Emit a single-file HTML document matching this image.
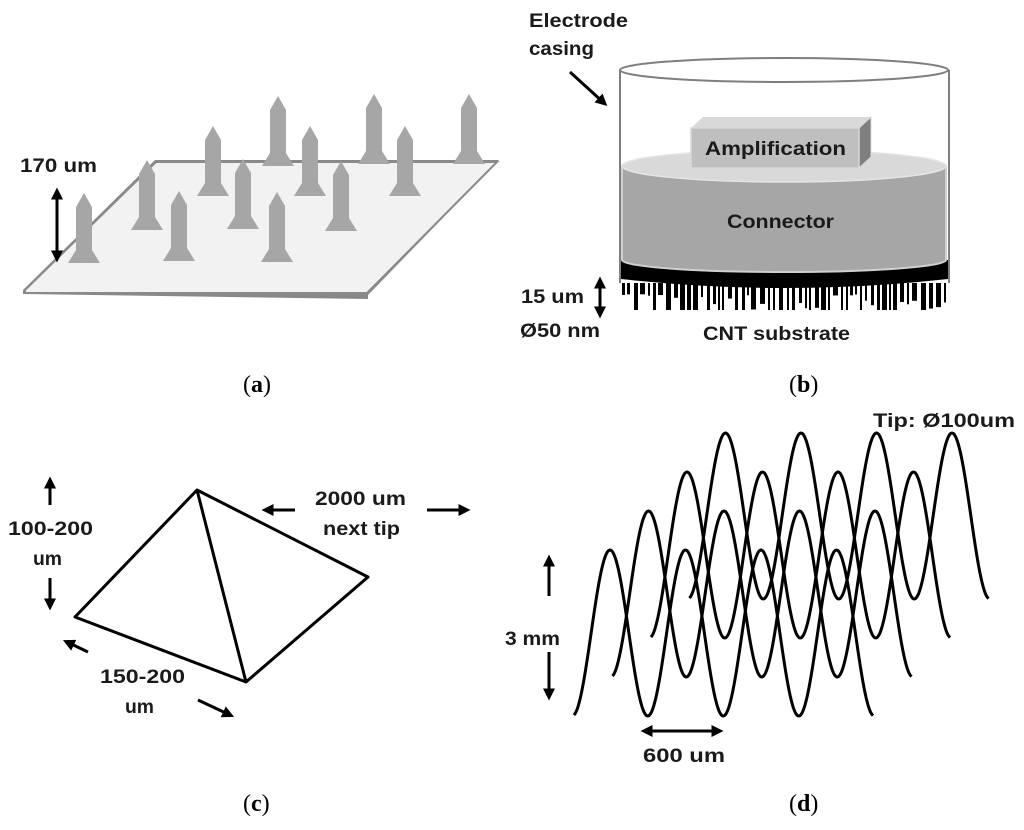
<!DOCTYPE html>
<html><head><meta charset="utf-8"><style>
html,body{margin:0;padding:0;background:#fff;}
svg{display:block;}
.t{font-family:"Liberation Sans",sans-serif;font-weight:bold;font-size:19px;fill:#1a1a1a;}
.c{font-family:"Liberation Serif",serif;font-size:24px;fill:#000;}
</style></head><body>
<svg id="s" width="1024" height="830" viewBox="0 0 1024 830" xmlns="http://www.w3.org/2000/svg">
<defs>
<marker id="ah" markerWidth="4" markerHeight="4" refX="2.5" refY="2" orient="auto" markerUnits="strokeWidth"><path d="M0,0 L4,2 L0,4 z" fill="#000"/></marker>
<marker id="ahs" markerWidth="4" markerHeight="4" refX="1.5" refY="2" orient="auto-start-reverse" markerUnits="strokeWidth"><path d="M0,0 L4,2 L0,4 z" fill="#000"/></marker>
</defs>
<polygon points="23,290 155,160 499,160 368,295 368,299 23,294" fill="#888"/>
<polygon points="25,290 156,162 497,162 367,293 25,293" fill="#f2f2f2" stroke="#8a8a8a" stroke-width="2"/>
<g id="spikes" fill="#a6a6a6"></g>
<line x1="57" y1="195" x2="57" y2="255" stroke="#000" stroke-width="3" marker-start="url(#ahs)" marker-end="url(#ahs)"/>
<text class="t" x="20" y="172" textLength="77" lengthAdjust="spacingAndGlyphs">170 um</text>
<text class="c" x="243" y="392">(<tspan font-weight="bold">a</tspan>)</text>

<text class="t" x="529" y="27" textLength="99" lengthAdjust="spacingAndGlyphs">Electrode</text>
<text class="t" x="529" y="55" textLength="65" lengthAdjust="spacingAndGlyphs">casing</text>
<line x1="570" y1="72" x2="604" y2="103" stroke="#000" stroke-width="3" marker-end="url(#ah)"/>
<line x1="620" y1="70" x2="620" y2="283" stroke="#7f7f7f" stroke-width="2"/>
<line x1="949" y1="70" x2="949" y2="283" stroke="#7f7f7f" stroke-width="2"/>
<ellipse cx="784" cy="70" rx="164" ry="12" fill="none" stroke="#7f7f7f" stroke-width="2"/>
<path d="M621,260 L621,279 Q784,297 948,279 L948,260 Z" fill="#000"/>
<g id="cnt" fill="#000"></g>
<path d="M622,166 L622,260 A162,12 0 0 0 946,260 L946,166 Z" fill="#a6a6a6" stroke="#d0d0d0" stroke-width="2"/>
<ellipse cx="784" cy="166" rx="162" ry="16" fill="#d9d9d9" stroke="#e5e5e5" stroke-width="1.5"/>
<polygon points="691,128 703,117 871,117 859,128" fill="#d9d9d9"/>
<polygon points="859,128 871,117 871,157 859,168" fill="#7f7f7f" stroke="#d9d9d9" stroke-width="1"/>
<rect x="691" y="128" width="168" height="40" fill="#bfbfbf" stroke="#d9d9d9" stroke-width="1.5"/>
<text class="t" x="705" y="155" textLength="141" lengthAdjust="spacingAndGlyphs">Amplification</text>
<text class="t" x="727" y="228" textLength="107" lengthAdjust="spacingAndGlyphs">Connector</text>
<text class="t" x="521" y="303" textLength="63" lengthAdjust="spacingAndGlyphs">15 um</text>
<line x1="600" y1="284" x2="600" y2="311" stroke="#000" stroke-width="3" marker-start="url(#ahs)" marker-end="url(#ahs)"/>
<text class="t" x="520" y="337" textLength="80" lengthAdjust="spacingAndGlyphs">Ø50 nm</text>
<text class="t" x="703" y="340" textLength="147" lengthAdjust="spacingAndGlyphs">CNT substrate</text>
<text class="c" x="789" y="392">(<tspan font-weight="bold">b</tspan>)</text>

<polygon points="197,490 75,617 246,682 368,577" fill="none" stroke="#000" stroke-width="3" stroke-linejoin="round"/>
<line x1="197" y1="490" x2="246" y2="682" stroke="#000" stroke-width="3"/>
<g stroke="#000" stroke-width="3">
<line x1="50" y1="505" x2="50" y2="481" marker-end="url(#ah)"/>
<line x1="50" y1="578" x2="50" y2="606" marker-end="url(#ah)"/>
<line x1="295" y1="510" x2="266" y2="510" marker-end="url(#ah)"/>
<line x1="427" y1="510" x2="466" y2="510" marker-end="url(#ah)"/>
<line x1="88" y1="652" x2="67" y2="642" marker-end="url(#ah)"/>
<line x1="198" y1="700" x2="230" y2="715" marker-end="url(#ah)"/>
<line x1="549" y1="596" x2="549" y2="559" marker-end="url(#ah)"/>
<line x1="549" y1="652" x2="549" y2="696" marker-end="url(#ah)"/>
</g>
<text class="t" x="8" y="535" textLength="85" lengthAdjust="spacingAndGlyphs">100-200</text>
<text class="t" x="33" y="565" textLength="29" lengthAdjust="spacingAndGlyphs">um</text>
<text class="t" x="315" y="505" textLength="91" lengthAdjust="spacingAndGlyphs">2000 um</text>
<text class="t" x="323" y="535" textLength="77" lengthAdjust="spacingAndGlyphs">next tip</text>
<text class="t" x="100" y="683" textLength="85" lengthAdjust="spacingAndGlyphs">150-200</text>
<text class="t" x="125" y="713" textLength="29" lengthAdjust="spacingAndGlyphs">um</text>
<text class="c" x="243" y="811">(<tspan font-weight="bold">c</tspan>)</text>

<g id="waves" fill="none" stroke="#000" stroke-width="3"></g>
<text class="t" x="505" y="645" textLength="55" lengthAdjust="spacingAndGlyphs">3 mm</text>
<line x1="648" y1="731" x2="716" y2="731" stroke="#000" stroke-width="3" marker-start="url(#ahs)" marker-end="url(#ahs)"/>
<text class="t" x="643" y="762" textLength="82" lengthAdjust="spacingAndGlyphs">600 um</text>
<text class="t" x="873" y="427" textLength="142" lengthAdjust="spacingAndGlyphs">Tip: Ø100um</text>
<text class="c" x="789" y="811">(<tspan font-weight="bold">d</tspan>)</text>
</svg>
<script>
var NS="http://www.w3.org/2000/svg";
var sp=[[84,193],[147,160],[179,191],[213,126],[243,159],[278,96],[277,192],[310,126],[341,161],[374,94],[405,126],[469,94]];
var g=document.getElementById("spikes");
sp.forEach(function(p){var x=p[0],y=p[1];var e=document.createElementNS(NS,"polygon");
e.setAttribute("points",[x,y,x+8,y+14,x+8,y+57,x+16,y+70,x-16,y+70,x-8,y+57,x-8,y+14,x,y].join(","));g.appendChild(e);});
var c=document.getElementById("cnt");var seed=7;function r(){seed=(seed*9301+49297)%233280;return seed/233280;}
for(var x=622;x<947;){var w=2+Math.floor(r()*4);var h=(r()<0.5)?27:(10+r()*17);var e=document.createElementNS(NS,"rect");
e.setAttribute("x",x);e.setAttribute("y",283);e.setAttribute("width",w);e.setAttribute("height",h);c.appendChild(e);x+=w+2+Math.floor(r()*3);}
var wg=document.getElementById("waves");
for(var k=3;k>=0;k--){var dx=k*38.5,dy=-k*39;var d="";
for(var x=574;x<=873;x+=1){var ph=(x-610)/75.5*2*Math.PI;var y=633-83*Math.cos(ph);d+=(d?"L":"M")+(x+dx).toFixed(1)+","+(y+dy).toFixed(1);}
var e=document.createElementNS(NS,"path");e.setAttribute("d",d);wg.appendChild(e);}
</script>
</body></html>
